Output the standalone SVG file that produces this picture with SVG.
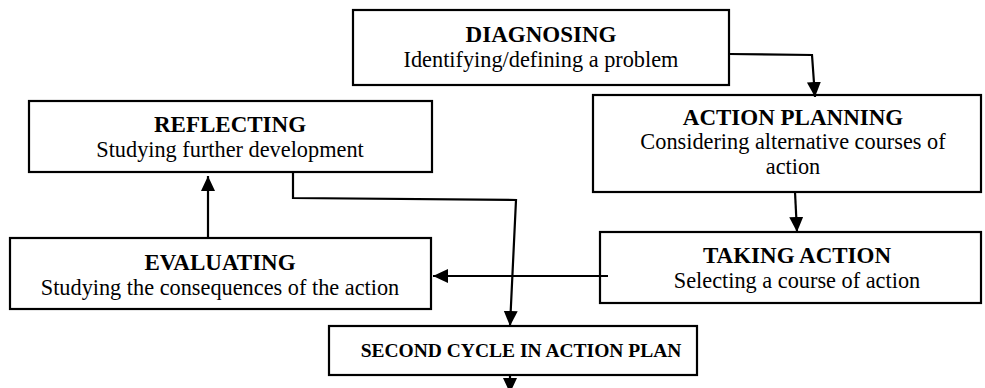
<svg xmlns="http://www.w3.org/2000/svg" width="985" height="388" viewBox="0 0 985 388">
  <style>
    .box { fill: #fff; stroke: #000; stroke-width: 2.2; }
    text { font-family: 'Liberation Serif', 'DejaVu Serif', serif; fill: #000; text-anchor: middle; }
    .title { font-weight: bold; font-size: 23px; }
    .sub { font-weight: normal; font-size: 22.3px; }
    .link { fill: none; stroke: #000; stroke-width: 2.2; }
  </style>
  <defs>
    <marker id="arrow" markerUnits="userSpaceOnUse" markerWidth="16" markerHeight="16" refX="15" refY="7" orient="auto">
      <path d="M0,0 L15,7 L0,14 z" fill="#000"/>
    </marker>
  </defs>
  <rect width="985" height="388" fill="#fff"/>

  <g id="diagnosing">
    <rect class="box" x="353" y="10" width="376" height="75"/>
    <text class="title" x="541" y="42">DIAGNOSING</text>
    <text class="sub" x="541" y="67">Identifying/defining a problem</text>
  </g>

  <g id="action-planning">
    <rect class="box" x="593" y="95" width="388" height="97"/>
    <text class="title" x="793" y="125">ACTION PLANNING</text>
    <text class="sub" x="793" y="149">Considering alternative courses of</text>
    <text class="sub" x="793" y="174">action</text>
  </g>

  <g id="reflecting">
    <rect class="box" x="29" y="101" width="403" height="71"/>
    <text class="title" x="230" y="132">REFLECTING</text>
    <text class="sub" x="230" y="157">Studying further development</text>
  </g>

  <g id="taking-action">
    <rect class="box" x="600" y="232" width="381" height="71"/>
    <text class="title" x="797" y="263">TAKING ACTION</text>
    <text class="sub" x="797" y="288">Selecting a course of action</text>
  </g>

  <g id="evaluating">
    <rect class="box" x="10" y="238" width="421" height="71"/>
    <text class="title" x="220" y="270">EVALUATING</text>
    <text class="sub" x="220" y="295">Studying the consequences of the action</text>
  </g>

  <g id="second-cycle">
    <rect class="box" x="329" y="326" width="368" height="49"/>
    <text class="title" x="521" y="357" style="font-size:19.5px">SECOND CYCLE IN ACTION PLAN</text>
  </g>

  <g id="connectors">
    <polyline class="link" points="729,54 812,55 815,97" marker-end="url(#arrow)"/>
    <line class="link" x1="795" y1="192" x2="797" y2="232" marker-end="url(#arrow)"/>
    <line class="link" x1="608" y1="276" x2="433" y2="276" marker-end="url(#arrow)"/>
    <line class="link" x1="208" y1="238" x2="208" y2="176" marker-end="url(#arrow)"/>
    <polyline class="link" points="293,172 293,198 516,200 510,326" marker-end="url(#arrow)"/>
    <line class="link" x1="510" y1="375" x2="510" y2="393" marker-end="url(#arrow)"/>
  </g>
</svg>
